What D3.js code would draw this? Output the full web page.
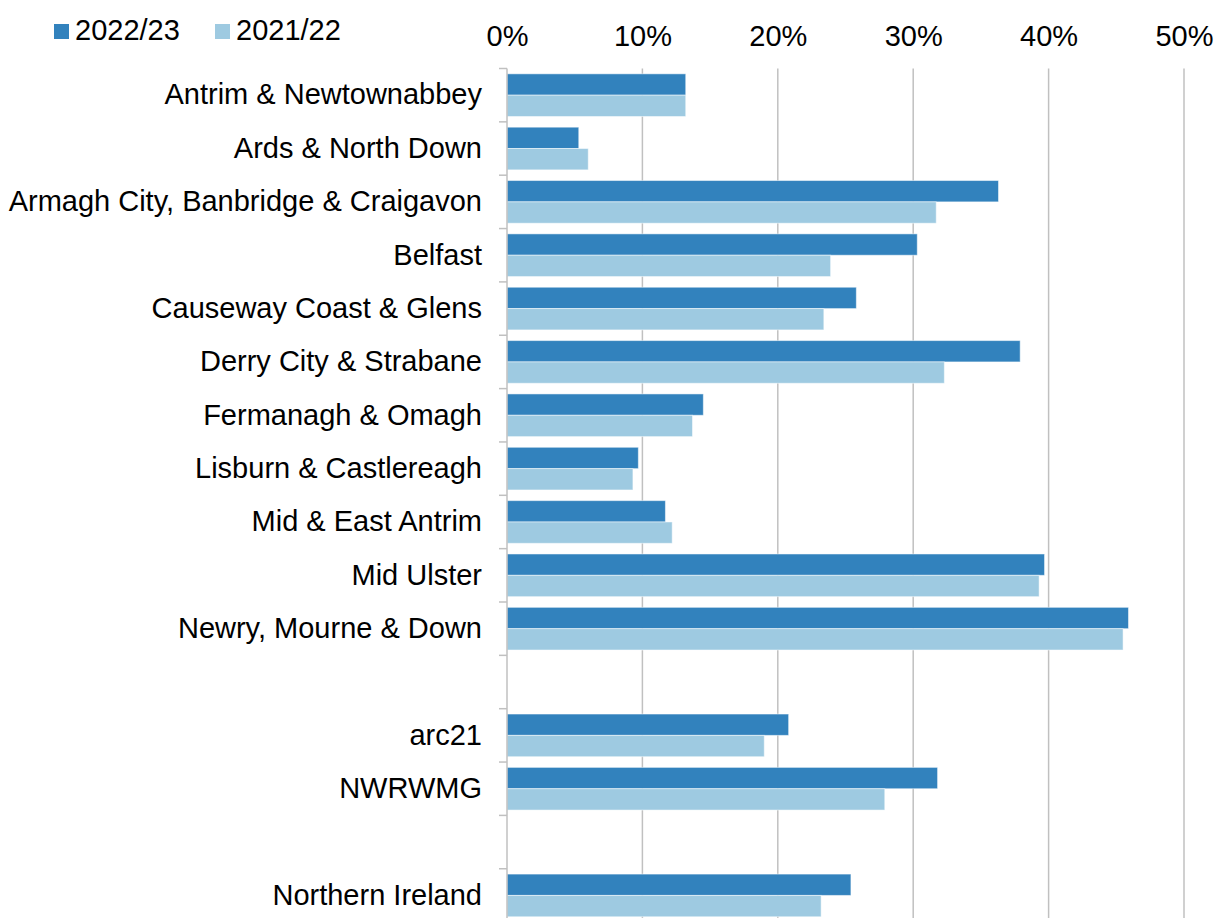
<!DOCTYPE html>
<html>
<head>
<meta charset="utf-8">
<script src="https://cdn.jsdelivr.net/npm/d3@7"></script>
<style>
  body { margin: 0; background: #fff; }
  svg { display: block; font-family: "Liberation Sans", Arial, sans-serif; }
</style>
</head>
<body>
<div id="chart"></div>
<script>
const categories = [
  'Antrim & Newtownabbey', 'Ards & North Down', 'Armagh City, Banbridge & Craigavon',
  'Belfast', 'Causeway Coast & Glens', 'Derry City & Strabane', 'Fermanagh & Omagh',
  'Lisburn & Castlereagh', 'Mid & East Antrim', 'Mid Ulster', 'Newry, Mourne & Down',
  '', 'arc21', 'NWRWMG', '', 'Northern Ireland'
];
const series = ['2022/23', '2021/22'];
const values2223 = [13.2, 5.3, 36.3, 30.3, 25.8, 37.9, 14.5, 9.7, 11.7, 39.7, 45.9, null, 20.8, 31.8, null, 25.4];
const values2122 = [13.2, 6.0, 31.7, 23.9, 23.4, 32.3, 13.7, 9.3, 12.2, 39.3, 45.5, null, 19.0, 27.9, null, 23.2];
const xTicks = [0, 10, 20, 30, 40, 50];
const colors = ['#3282bd', '#9ecae1'];

const width = 1216, height = 918;
const plotLeft = 507, plotRight = 1184, plotTop = 68.5;

const svg = d3.select('#chart')
  .append('svg')
  .attr('width', width)
  .attr('height', height);

const x = d3.scaleLinear()
  .domain([0, 50])
  .range([plotLeft, plotRight]);

const y = d3.scaleBand()
  .domain(d3.range(categories.length))
  .range([plotTop, plotTop + 53.35 * categories.length])
  .padding(0);

const ySub = d3.scaleBand()
  .domain(series)
  .range([0, y.bandwidth()])
  .paddingInner(0)
  .paddingOuter(0.25);

// gridlines
svg.append('g')
  .selectAll('line')
  .data(xTicks.slice(1))
  .join('line')
  .attr('x1', d => x(d))
  .attr('x2', d => x(d))
  .attr('y1', plotTop)
  .attr('y2', height)
  .attr('stroke', '#c0c0c0')
  .attr('stroke-width', 1.5);

// bars
const rows = categories.map((c, i) => ({ i, vals: [values2223[i], values2122[i]] }));
svg.append('g')
  .selectAll('g')
  .data(rows.filter(r => r.vals[0] != null))
  .join('g')
  .attr('transform', d => `translate(0,${y(d.i)})`)
  .selectAll('rect')
  .data(d => d.vals.map((v, k) => ({ key: series[k], v, k })))
  .join('rect')
  .attr('x', x(0))
  .attr('y', d => ySub(d.key))
  .attr('width', d => x(d.v) - x(0))
  .attr('height', ySub.bandwidth())
  .attr('fill', d => colors[d.k])
  .attr('stroke', 'rgba(255,255,255,0.5)')
  .attr('stroke-width', 1);

// left axis line + boundary ticks
const ax = svg.append('g').attr('stroke', '#c0c0c0').attr('stroke-width', 1.5);
ax.append('line')
  .attr('x1', plotLeft).attr('x2', plotLeft)
  .attr('y1', plotTop).attr('y2', height);
ax.selectAll('line.tk')
  .data(d3.range(categories.length))
  .join('line')
  .attr('class', 'tk')
  .attr('x1', plotLeft - 8).attr('x2', plotLeft)
  .attr('y1', d => y(d)).attr('y2', d => y(d));

function yAxis(g) {
  g.attr('transform', `translate(${plotLeft},0)`)
    .call(d3.axisLeft(y).tickFormat(i => categories[i]).tickSize(0).tickPadding(25))
    .call(g => g.select('.domain').remove())
    .attr('font-size', '29px')
    .attr('font-family', '"Liberation Sans", Arial, sans-serif')
    .selectAll('text').attr('fill', '#000');
}

function xAxis(g) {
  g.attr('transform', `translate(0,46)`)
    .call(d3.axisTop(x).tickValues(xTicks).tickFormat(d => d + '%').tickSize(0).tickPadding(0))
    .call(g => g.select('.domain').remove())
    .attr('font-size', '29px')
    .attr('font-family', '"Liberation Sans", Arial, sans-serif')
    .selectAll('text').attr('fill', '#000');
}

svg.append('g').call(yAxis);
svg.append('g').call(xAxis);

// legend
const legend = svg.append('g')
  .selectAll('g')
  .data(series)
  .join('g')
  .attr('transform', (d, i) => `translate(${54 + i * 161},0)`);
legend.append('rect')
  .attr('x', 0).attr('y', 24)
  .attr('width', 15).attr('height', 15)
  .attr('fill', (d, i) => colors[i]);
legend.append('text')
  .attr('x', 21).attr('y', 40)
  .attr('font-size', '29px')
  .text(d => d);
</script>
</body>
</html>
